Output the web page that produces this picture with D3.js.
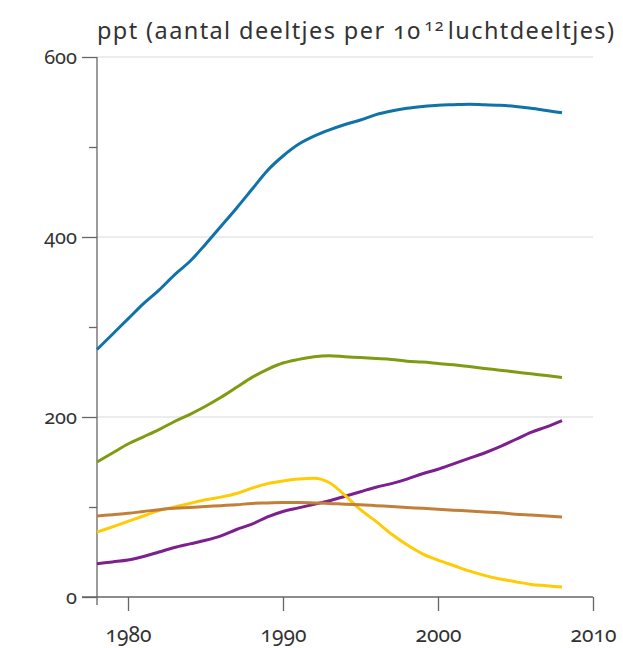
<!DOCTYPE html>
<html>
<head>
<meta charset="utf-8">
<script src="https://cdn.jsdelivr.net/npm/d3@7"></script>
<style>
  html, body { margin: 0; padding: 0; background: #fff; }
  svg { display: block; }
  text { font-family: "Noto Sans", "Open Sans", sans-serif; fill: #333;
         font-variant-numeric: oldstyle-nums; font-feature-settings: "onum" 1; }
</style>
</head>
<body>
<svg id="chart" width="623" height="648"></svg>
<script>
const years = d3.range(1978, 2009);

const blue = [275, 292, 309, 326, 341, 358, 373, 392, 412, 432, 453, 474, 490, 503, 512, 519, 525, 530, 536, 540, 543, 545, 546.5, 547, 547.4, 547, 546.3, 545, 543, 540.5, 538];
const green = [150, 160, 170, 178, 186, 195, 203, 212, 222, 233, 244, 253, 260, 264, 267, 268, 267, 266, 265, 264, 262, 261, 259.5, 258, 256, 254, 252, 250, 248, 246, 244];
const purple = [37, 39, 41, 45, 50, 55, 59, 63, 68, 75, 81, 89, 95, 99, 103, 107, 112, 117, 122, 126, 131, 137, 142, 148, 154, 160, 167, 175, 183, 189, 196];
const yellow = [72, 78, 84, 90, 96, 100, 104, 108, 111, 115, 121, 126, 129, 131, 132, 127, 113, 97, 84, 70, 58, 48, 41, 35, 29, 24, 20, 17, 14, 12.5, 11];
const brown = [90, 91.5, 93, 95, 97, 98.5, 99.5, 100.5, 101.5, 102.5, 104, 104.5, 105, 105, 104.5, 104, 103, 102.5, 101.5, 100.5, 99.5, 98.5, 97.5, 96.5, 95.5, 94.5, 93.5, 92, 91, 90, 89];

const seriesNames = ["blue", "green", "purple", "yellow", "brown"];
const seriesValues = [blue, green, purple, yellow, brown];
const seriesColors = ["#0f72a8", "#7f9b12", "#7d1f8e", "#ffcb05", "#c17f3a"];

const xTicks = [1980, 1990, 2000, 2010];
const yMajorTicks = [0, 200, 400, 600];
const yMinorTicks = [100, 300, 500];
const gridValues = [200, 400, 600];

const svg = d3.select("#chart");
const x = d3.scaleLinear().domain([1978, 2010]).range([97, 593]);
const y = d3.scaleLinear().domain([0, 600]).range([597, 57]);
const axisColor = "#666";

// gridlines
svg.append("g").selectAll("line").data(gridValues).join("line")
  .attr("x1", x(1978)).attr("x2", x(2010))
  .attr("y1", d => y(d)).attr("y2", d => y(d))
  .attr("stroke", "#d9d9d9").attr("stroke-width", 1);

// y axis major
const gyMaj = svg.append("g").attr("transform", `translate(${x(1978)},0)`)
  .call(d3.axisLeft(y).tickValues(yMajorTicks).tickSize(15).tickSizeOuter(0).tickPadding(5));
gyMaj.select(".domain").remove();
gyMaj.attr("font-family", null);
gyMaj.selectAll(".tick line").attr("stroke", axisColor).attr("stroke-width", 1.3);
gyMaj.selectAll(".tick text").attr("font-size", 20).attr("fill", "#333").attr("dy", "0.3em");

// y axis minor
const gyMin = svg.append("g").attr("transform", `translate(${x(1978)},0)`)
  .call(d3.axisLeft(y).tickValues(yMinorTicks).tickSize(8).tickSizeOuter(0).tickFormat(""));
gyMin.select(".domain").remove();
gyMin.selectAll(".tick line").attr("stroke", axisColor).attr("stroke-width", 1.3);

// y axis line (extends slightly below baseline)
svg.append("line")
  .attr("x1", x(1978)).attr("x2", x(1978))
  .attr("y1", y(600)).attr("y2", y(0) + 8)
  .attr("stroke", axisColor).attr("stroke-width", 1.3);

// x axis
const gx = svg.append("g").attr("transform", `translate(0,${y(0)})`)
  .call(d3.axisBottom(x).tickValues(xTicks).tickFormat(d3.format("d")).tickSize(14).tickSizeOuter(0));
gx.select(".domain").remove();
gx.attr("font-family", null);
gx.selectAll(".tick line").attr("stroke", axisColor).attr("stroke-width", 1.3);
gx.selectAll(".tick text").attr("font-size", 21).attr("fill", "#333")
  .attr("y", 45).attr("dy", 0);
svg.append("line")
  .attr("x1", x(1978) - 15).attr("x2", x(2010))
  .attr("y1", y(0)).attr("y2", y(0))
  .attr("stroke", axisColor).attr("stroke-width", 1.3);

// lines
const line = d3.line().x((d, i) => x(years[i])).y(d => y(d)).curve(d3.curveMonotoneX);
svg.append("g").selectAll("path").data(seriesValues).join("path")
  .attr("d", d => line(d))
  .attr("fill", "none")
  .attr("stroke", (d, i) => seriesColors[i])
  .attr("stroke-width", 3)
  .attr("stroke-linejoin", "round")
  .attr("stroke-linecap", "butt");

// title
const title = svg.append("text").attr("x", 97).attr("y", 39)
  .attr("font-size", 23.5).attr("letter-spacing", 1.4);
title.append("tspan").text("ppt (aantal deeltjes per 10");
title.append("tspan").attr("dx", 3).attr("dy", -8).attr("font-size", 16).text("12");
title.append("tspan").attr("dx", 3).attr("dy", 8).text("luchtdeeltjes)");
</script>
</body>
</html>
